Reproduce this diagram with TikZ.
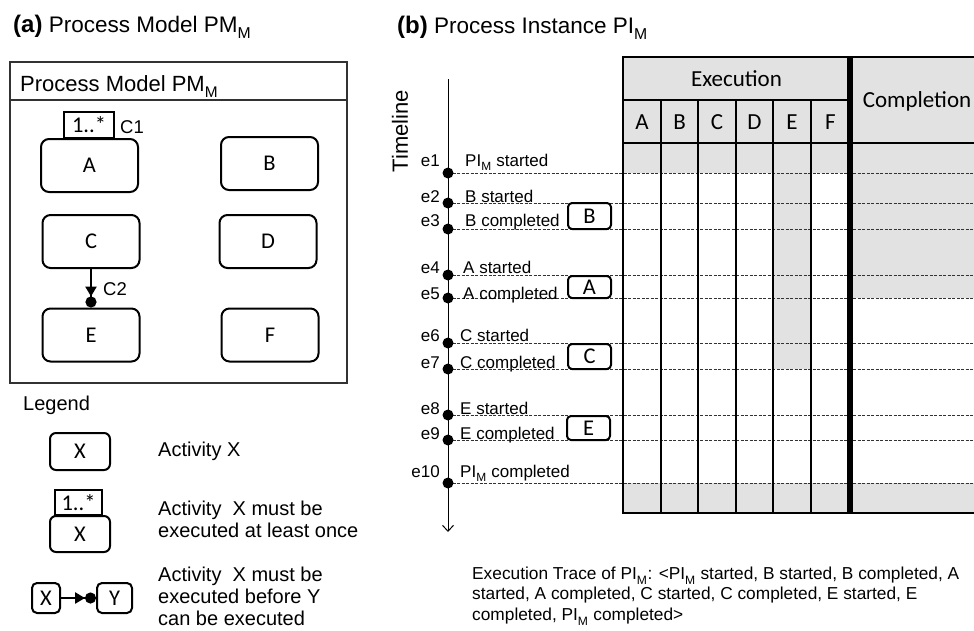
\documentclass[tikz,border=0pt]{standalone}
\usepackage{fontspec}
\setmainfont{Liberation Sans}
\newfontfamily\calfont{Carlito}
\usetikzlibrary{arrows.meta,calc}
\definecolor{cellgray}{RGB}{226,226,226}
\definecolor{framegray}{RGB}{50,50,50}
% lowered subscript used in PM_M / PI_M
\newcommand\lowsub[1]{\raisebox{-0.12em}{\textsubscript{#1}}}

\begin{document}
\begin{tikzpicture}[x=1pt,y=-1pt,
  ttl/.style={font=\fontsize{22.5}{25}\selectfont, anchor=base west, inner sep=0pt},
  txt/.style={font=\fontsize{17}{20}\selectfont, inner sep=0pt},
  lgd/.style={font=\fontsize{20}{22}\selectfont, inner sep=0pt, align=left, anchor=west},
  act/.style={draw, rounded corners=8pt, line width=2pt, fill=white,
              minimum width=97pt, minimum height=53pt, inner sep=0pt,
              font=\calfont\fontsize{22.5}{24}\selectfont},
  smallact/.style={draw, rounded corners=4pt, line width=2pt, fill=white,
              inner sep=0pt, font=\calfont\fontsize{22.5}{24}\selectfont},
  mult/.style={draw, line width=2pt, fill=white, inner sep=0pt,
              font=\calfont\fontsize{22.5}{24}\selectfont},
  prec/.style={line width=2.5pt, -{Triangle[length=10pt,width=11pt] Circle[length=11pt]}},
  evline/.style={black!80, line width=0.9pt, dash pattern=on 3pt off 1.5pt},
  gridline/.style={line width=2.3pt, line cap=rect},
  hdr/.style={font=\calfont\fontsize{23}{26}\selectfont, inner sep=0pt}
]
\useasboundingbox (0,0) rectangle (974,630);

% ---------------- (a) process model ----------------
\node[ttl] (titleA) at (13,32) {{\fontsize{24}{25}\selectfont\textbf{(a)}} Process Model PM\lowsub{M}};

\draw[framegray, line width=1.3pt] (10,62) rectangle (347,383);
\draw[framegray, line width=1.3pt] (10,100) -- (347,100);
\node[ttl, font=\fontsize{22}{25}\selectfont] (pmhead) at (20,91) {Process Model PM\lowsub{M}};

\node[act] (A) at (89.5,165.5) {A};
\node[act] (B) at (269.5,163.5) {B};
\node[act] (C) at (91,241.5) {C};
\node[act] (D) at (268,241.5) {D};
\node[act] (E) at (91,335) {E};
\node[act] (F) at (270,335) {F};

\node[mult, minimum width=50pt, minimum height=26pt, anchor=south] (multA) at (89,139) {1..*};
\node[txt, font=\fontsize{18.5}{20}\selectfont, anchor=west] (c1) at (120,127) {C1};

\draw[prec] (C.south) -- (E.north);
\node[txt, font=\fontsize{18.5}{20}\selectfont, anchor=west] (c2) at (103,289) {C2};

% ---------------- legend ----------------
\node[lgd] (legend) at (23,405) {Legend};

\node[smallact, rounded corners=6pt, minimum width=60pt, minimum height=37pt] (lx) at (80,451.5) {X};
\node[lgd] (lxtxt) at (158,451) {Activity X};

\node[smallact, rounded corners=6pt, minimum width=60pt, minimum height=36pt] (lx2) at (80,534) {X};
\node[mult, minimum width=47pt, minimum height=25pt, anchor=south] (lmult) at (78.5,516) {1..*};
\node[lgd] (lmulttxt) at (158,519) {Activity\ \ X must be\\executed at least once};

\node[smallact, rounded corners=5pt, minimum width=28pt, minimum height=30pt] (lX) at (46,598) {X};
\node[smallact, rounded corners=5pt, minimum width=35pt, minimum height=30pt] (lY) at (114.5,598) {Y};
\draw[prec] (lX.east) -- (lY.west);
\node[lgd, anchor=north west] (lprectxt) at (158,567) {Activity\ \ X must be\\executed before Y\\can be executed};

% ---------------- (b) process instance ----------------
\node[ttl] (titleB) at (397,33) {{\fontsize{24}{25}\selectfont\textbf{(b)}} Process Instance PI\lowsub{M}};
\node[font=\fontsize{22}{24}\selectfont, rotate=90, inner sep=0pt] (tlabel) at (400,131) {Timeline};

% grid shading
\fill[cellgray] (623,57) rectangle (985,173);
\fill[cellgray] (773,173) rectangle (811,369);
\fill[cellgray] (850,173) rectangle (985,298);
\fill[cellgray] (623,483) rectangle (985,513);

% timeline axis
\coordinate (tltop) at (448,79);
\coordinate (tlbot) at (448,532);
\draw[line width=1pt, -{Straight Barb[length=6pt,width=11pt,line width=1pt]}] (tltop) -- (tlbot);

% events: index / dot y
\foreach \i/\y in {1/173,2/203,3/229,4/275,5/298,6/343,7/369,8/415,9/440,10/483}{
  \coordinate (ev\i) at (448,\y);
  \coordinate (evend\i) at (985,\y);
  \draw[evline] (ev\i) -- (evend\i);
  \fill (ev\i) circle (5.5);
}

% event labels: index / baseline y / text x / description
\foreach \i/\b/\tx/\desc in {
  1/166/465/PI\lowsub{M} started,
  2/202/465/B started,
  3/226/465/B completed,
  4/273/463/A started,
  5/299/463/A completed,
  6/341/460/C started,
  7/368/460/C completed,
  8/414/460/E started,
  9/439/460/E completed,
  10/477/460/PI\lowsub{M} completed}{
  \node[txt, anchor=base east] (elab\i) at (440,\b) {e\i};
  \node[txt, anchor=base west] (edesc\i) at (\tx,\b) {\desc};
}

% activity markers on the timeline
\node[smallact, minimum width=43pt, minimum height=26pt] (tB) at (589.5,216) {B};
\node[smallact, minimum width=43pt, minimum height=22pt] (tA) at (589.5,287) {A};
\node[smallact, minimum width=43pt, minimum height=25pt] (tC) at (589.5,356.5) {C};
\node[smallact, minimum width=43pt, minimum height=24pt] (tE) at (588.5,428) {E};

% grid lines
\foreach \x in {661,698,736,773,811}{
  \draw[gridline] (\x,100) -- (\x,513);
}
\draw[gridline] (623,57) -- (623,513);
\draw[gridline] (623,57) -- (985,57);
\draw[gridline] (623,100) -- (850,100);
\draw[gridline] (623,143) -- (985,143);
\draw[gridline] (623,513) -- (985,513);
\draw[line width=5.5pt] (850,57) -- (850,513);

% grid headings
\node[hdr] (hexec) at (736.5,79) {Execution};
\node[hdr] (hcompl) at (917,101) {Completion};
\foreach \c/\x in {A/642,B/679.5,C/717,D/754.5,E/792,F/830.5}{
  \node[hdr] (col\c) at (\x,122) {\c};
}

% execution trace
\node[txt, align=left, anchor=west, font=\fontsize{17.3}{20.5}\selectfont] (trace) at (472,596)
  {Execution Trace of PI\lowsub{M}: <PI\lowsub{M} started, B started, B completed, A\\
   started, A completed, C started, C completed, E started, E\\
   completed, PI\lowsub{M} completed>};
\end{tikzpicture}
\end{document}
